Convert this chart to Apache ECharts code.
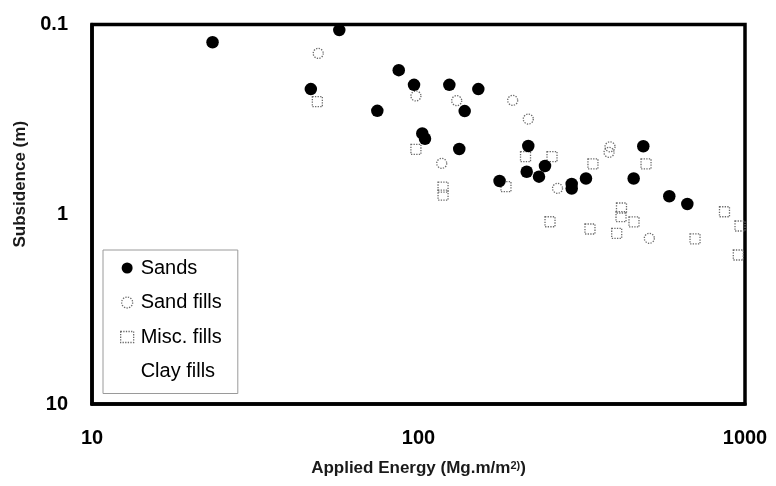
<!DOCTYPE html>
<html>
<head>
<meta charset="utf-8">
<script src="https://cdn.jsdelivr.net/npm/echarts@6/dist/echarts.min.js"></script>
<style>
  html, body { margin: 0; padding: 0; background: #fff; }
  #chart { width: 776px; height: 486px; }
</style>
</head>
<body>
<div id="chart"></div>
<script>
// Applied energy (Mg.m/m2) against measured subsidence (m)
const sandsEnergy = [23.4, 46.8, 57.2, 74.8, 87.0, 96.9, 102.7, 104.7, 124.3, 138.5, 133.3, 152.5,
                     177.1, 216.9, 214.5, 233.9, 244.0, 294.6, 294.6, 325.8, 456.1, 488.1, 586.3, 665.9];
const sandsSubsidence = [0.124, 0.219, 0.107, 0.285, 0.174, 0.208, 0.375, 0.400, 0.208, 0.286, 0.453, 0.219,
                         0.668, 0.437, 0.597, 0.634, 0.557, 0.693, 0.732, 0.648, 0.648, 0.438, 0.804, 0.883];

const sandFillsEnergy = [49.3, 98.2, 130.9, 117.8, 194.3, 216.9, 266.6, 386.0, 383.3, 509.3];
const sandFillsSubsidence = [0.142, 0.238, 0.252, 0.539, 0.251, 0.315, 0.730, 0.441, 0.472, 1.339];

const miscFillsEnergy = [49.0, 98.2, 118.9, 118.9, 185.3, 212.7, 256.4, 252.8, 342.2, 335.1,
                         418.5, 417.1, 404.6, 457.1, 497.6, 703.0, 865.3, 965.4, 953.9];
const miscFillsSubsidence = [0.255, 0.455, 0.719, 0.792, 0.716, 0.497, 0.497, 1.095, 0.543, 1.196,
                             0.927, 1.030, 1.260, 1.098, 0.543, 1.347, 0.970, 1.153, 1.640];

const clayFillsEnergy = [];
const clayFillsSubsidence = [];

const xTicks = [10, 100, 1000];
const yTicks = [0.1, 1, 10];

const pairs = (xs, ys) => xs.map((x, i) => [x, ys[i]]);

const FONT = '"Liberation Sans", Arial, Helvetica, sans-serif';
const openStyle = {
  color: 'rgba(255,255,255,0)',
  borderColor: '#6a6a6a',
  borderWidth: 1.3,
  borderType: 'dotted',
  opacity: 1
};
const solidStyle = { color: '#000', borderWidth: 0, opacity: 1 };

const chart = echarts.init(document.getElementById('chart'), null, { renderer: 'canvas' });

chart.setOption({
  animation: false,
  backgroundColor: '#ffffff',
  grid: {
    left: 92, right: 31, top: 24.5, bottom: 82,
    show: true, borderColor: '#000', borderWidth: 3.5, backgroundColor: 'transparent'
  },
  xAxis: {
    type: 'log', logBase: 10, min: xTicks[0], max: xTicks[xTicks.length - 1],
    name: '{t|Applied Energy (Mg.m/m}{s|2)}{t|)}',
    nameLocation: 'middle', nameGap: 56,
    nameTextStyle: {
      rich: {
        t: { fontFamily: FONT, fontWeight: 'bold', fontSize: 17, color: '#1a1a1a' },
        s: { fontFamily: FONT, fontWeight: 'bold', fontSize: 11, color: '#1a1a1a', verticalAlign: 'top', padding: [0, 0, 6, 0] }
      }
    },
    axisLine: { show: true, onZero: false, lineStyle: { color: '#000', width: 3.5 } },
    axisTick: { show: false },
    splitLine: { show: false },
    axisLabel: {
      margin: 24, fontFamily: FONT, fontWeight: 'bold', fontSize: 20, color: '#000',
      formatter: v => String(Number(v.toPrecision(3)))
    }
  },
  yAxis: {
    type: 'log', logBase: 10, inverse: true, min: yTicks[0], max: yTicks[yTicks.length - 1],
    name: 'Subsidence (m)',
    nameLocation: 'middle', nameGap: 53, nameRotate: 90,
    nameTextStyle: { fontFamily: FONT, fontWeight: 'bold', fontSize: 17, color: '#1a1a1a', padding: [0, 0, 0, 60] },
    axisLine: { show: true, onZero: false, lineStyle: { color: '#000', width: 3.5 } },
    axisTick: { show: false },
    splitLine: { show: false },
    axisLabel: {
      margin: 24, fontFamily: FONT, fontWeight: 'bold', fontSize: 20, color: '#000',
      formatter: v => String(Number(v.toPrecision(3)))
    }
  },
  legend: {
    orient: 'vertical', left: 103, top: 250,
    padding: [8, 16, 12, 17],
    itemGap: 14.5, itemWidth: 13, itemHeight: 11,
    borderColor: '#9a9a9a', borderWidth: 1, backgroundColor: '#fff',
    textStyle: { fontFamily: FONT, fontSize: 20, color: '#000', padding: [0, 0, 0, 2] },
    data: [
      { name: 'Sands', icon: 'circle', itemStyle: solidStyle },
      { name: 'Sand fills', icon: 'circle', itemStyle: openStyle },
      { name: 'Misc. fills', icon: 'rect', itemStyle: openStyle },
      { name: 'Clay fills', icon: 'circle', itemStyle: { color: 'rgba(255,255,255,0)', borderWidth: 0 } }
    ]
  },
  series: [
    {
      name: 'Misc. fills', type: 'scatter', symbol: 'rect', symbolSize: 10,
      itemStyle: openStyle, data: pairs(miscFillsEnergy, miscFillsSubsidence)
    },
    {
      name: 'Sand fills', type: 'scatter', symbol: 'circle', symbolSize: 10,
      itemStyle: openStyle, data: pairs(sandFillsEnergy, sandFillsSubsidence)
    },
    {
      name: 'Sands', type: 'scatter', symbol: 'circle', symbolSize: 12.5,
      itemStyle: solidStyle, data: pairs(sandsEnergy, sandsSubsidence)
    },
    {
      name: 'Clay fills', type: 'scatter', symbol: 'circle', symbolSize: 10,
      itemStyle: solidStyle, data: pairs(clayFillsEnergy, clayFillsSubsidence)
    }
  ]
});
</script>
</body>
</html>
